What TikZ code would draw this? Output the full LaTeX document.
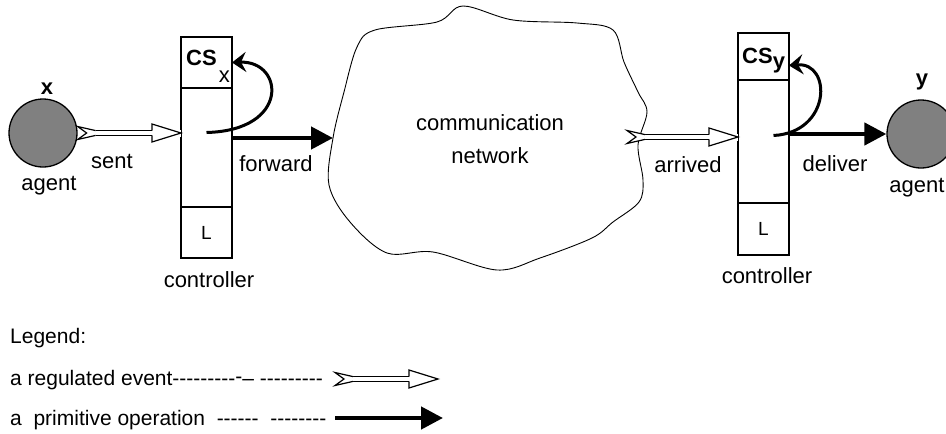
\documentclass[tikz,border=0pt]{standalone}
\usepackage{fontspec}
\setmainfont{Liberation Sans}[Ligatures=TeXOff]
\usetikzlibrary{positioning,arrows.meta,decorations.markings}
\definecolor{agentgray}{gray}{0.5}

\begin{document}
\begin{tikzpicture}[x=1pt,y=-1pt]
    \newcommand{\agentrad}{34pt} % radius of the agents
    \newcommand{\cellw}{51pt} % width of the controller boxes
    \newcommand{\txt}{\fontsize{22}{33}\selectfont}
    \newcommand{\legtxt}{\fontsize{21}{33}\selectfont}

    % set the styles of boxes, agents and the two kinds of arrows
    \tikzset{
        cell/.style={
            draw,
            line width=1.3pt,
            minimum width=\cellw,
            inner sep=0pt,
            outer sep=0pt,
            font=\fontsize{19}{22}\selectfont
            },
        agent/.style={circle, draw, line width=1.3pt, fill=agentgray, minimum size=2*\agentrad, inner sep=0pt},
        lbl/.style={anchor=base, inner sep=0pt, font=\txt},
        primop/.style={line width=4.5pt, -{Triangle[length=22pt,width=22pt]}},
        loopop/.style={line width=3pt, -{Stealth[length=14pt,width=20pt,inset=5pt]}},
        regevent/.style={
            double,
            double distance=3.6pt,
            line width=1.2pt,
            postaction={decorate, decoration={markings,
                mark=at position 0 with {
                    \fill[white] (0pt,-3.2pt) rectangle (18pt,3.2pt);
                    \filldraw[fill=white, line width=1.2pt, line join=miter]
                        (18pt,2.4pt) -- (0pt,6.5pt) -- (9pt,0pt) -- (0pt,-6.5pt) -- (18pt,-2.4pt);
                    },
                mark=at position 1 with {
                    \fill[white] (-29pt,-3.5pt) rectangle (0pt,3.5pt);
                    \fill[white] (-29pt,9pt) -- (0pt,0pt) -- (-29pt,-9pt) -- cycle;
                    \draw[line width=1.2pt, line join=miter]
                        (-29pt,2.4pt) -- (-29pt,9pt) -- (0pt,0pt) -- (-29pt,-9pt) -- (-29pt,-2.4pt);
                    }}}
            }
    }

    \useasboundingbox (0,0) rectangle (946,434);

    % communication network
    \draw[line width=0.9pt] plot[smooth cycle, tension=0.55] coordinates {
        (333,138) (344,92) (357,47) (375,30) (437,22) (463,6) (513,20) (577,23)
        (613,30) (624,62) (638,92) (647,112) (638,145) (643,180) (639,202)
        (613,222) (592,238) (540,258) (497,270) (433,252) (387,253) (350,222)
        (329,185)};
    \node[font=\txt, align=center, inner sep=0pt] (net) at (490,139) {communication\\network};
    \coordinate (netin) at (333,138);
    \coordinate (netout) at (627,137);

    % agents
    \node[agent] (agx) at (43,133) {};
    \node[lbl, font=\txt\bfseries] (xname) at (47,94) {x};
    \node[lbl] (agxname) at (49,190) {agent};

    \node[agent] (agy) at (921,134) {};
    \node[lbl, font=\txt\bfseries] (yname) at (922,85) {y};
    \node[lbl] (agyname) at (917,192) {agent};

    % controller of x
    \node[cell, minimum height=51pt] (csx) at (206.5,62.5) {};
    \node[cell, minimum height=119pt, below=0pt of csx] (bodyx) {};
    \node[cell, minimum height=51pt, below=0pt of bodyx] (lx) {L};
    \node[lbl, anchor=base west] (csxlbl) at (186,65) {\bfseries CS\hspace{2pt}\raisebox{-17pt}{\mdseries x}};
    \node[lbl] (ctlxname) at (209,287) {controller};

    % controller of y
    \node[cell, minimum height=47pt] (csy) at (763.5,56.5) {};
    \node[cell, minimum height=123pt, below=0pt of csy] (bodyy) {};
    \node[cell, minimum height=52pt, below=0pt of bodyy] (ly) {L};
    \node[lbl, anchor=base west] (csylbl) at (742,63) {\bfseries CS\raisebox{-5pt}{y}};
    \node[lbl] (ctlyname) at (767,283) {controller};

    % events and operations
    \draw[regevent] (agx) -- (agx -| bodyx.west);
    \node[lbl] (sent) at (112,168) {sent};
    \draw[primop] (bodyx.east |- netin) -- (netin);
    \node[lbl] (fwd) at (276,171) {forward};
    \draw[loopop] ([yshift=15pt]bodyx.center) .. controls +(84,-2) and +(52,-2) .. (csx.east);

    \draw[regevent] (netout) -- (netout -| bodyy.west);
    \node[lbl] (arr) at (688,172) {arrived};
    \draw[primop] (bodyy.east |- agy) -- (agy);
    \node[lbl] (dlv) at (835,171) {deliver};
    \draw[loopop] ([shift={(10pt,6pt)}]bodyy.center) .. controls +(58,-3) and +(43,-3.5) .. ([yshift=-9pt]csy.east);

    % legend
    \node[lbl, anchor=base west, font=\legtxt] (legend) at (10,343) {Legend:};
    \node[lbl, anchor=base west, font=\legtxt] (lgreg) at (10,385) {a regulated event---------\raisebox{1.5pt}{-}–\ ---------};
    \node[lbl, anchor=base west, font=\legtxt] (lgprim) at (10,425) {a\ \ primitive operation\ \ ------\ \ --------};
    \coordinate (lgregA) at (335,379);
    \coordinate (lgregB) at (438,379);
    \draw[regevent] (lgregA) -- (lgregB);
    \coordinate (lgprimA) at (335,418);
    \coordinate (lgprimB) at (443,418);
    \draw[primop] (lgprimA) -- (lgprimB);
\end{tikzpicture}
\end{document}
